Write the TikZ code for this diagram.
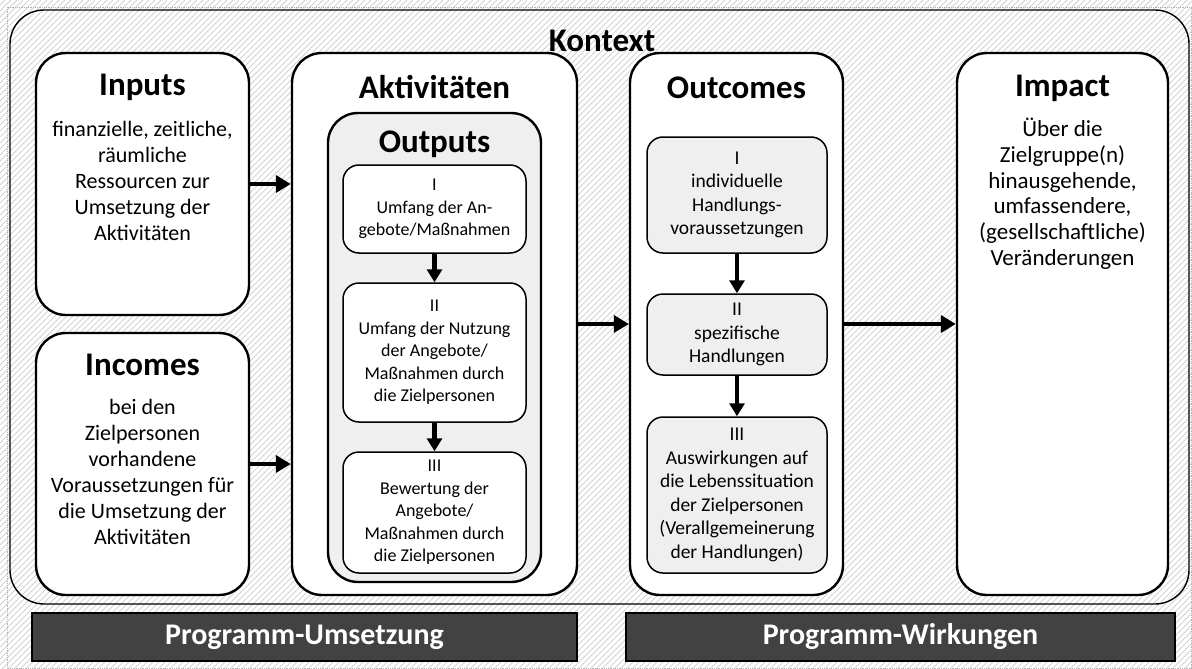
\documentclass[tikz,border=0pt]{standalone}
\usepackage{fontspec}
\setmainfont{Carlito}
\usetikzlibrary{arrows.meta}

\definecolor{boxgray}{RGB}{239,239,239}
\definecolor{bargray}{RGB}{66,66,66}
\definecolor{hatchgray}{RGB}{210,210,210}

\tikzset{
  hatch/.style={hatchgray, line width=0.9pt},
  kontextbox/.style={draw, line width=1.4pt, rounded corners=34pt, inner sep=0pt},
  mainbox/.style={draw, line width=2.4pt, rounded corners=30pt, fill=white, inner sep=0pt},
  outputframe/.style={mainbox, fill=boxgray},
  stagebox/.style={draw, line width=1.5pt, rounded corners=16pt, fill=white, inner sep=0pt,
    align=center, font=\fontsize{18}{22.5}\selectfont},
  outcomebox/.style={stagebox, fill=boxgray, font=\fontsize{19.5}{23.5}\selectfont},
  titletext/.style={inner sep=0pt, font=\fontsize{33}{38}\selectfont\bfseries},
  bodytext/.style={inner sep=0pt, align=center, font=\fontsize{22}{26}\selectfont},
  impacttext/.style={bodytext, font=\fontsize{23}{25.8}\selectfont},
  barbox/.style={draw=black, line width=1.2pt, fill=bargray, text=white, minimum height=48pt,
    font=\fontsize{30}{36}\selectfont\bfseries},
  flow/.style={line width=4.6pt, -{Triangle[length=15pt,width=17pt]}},
  stepflow/.style={line width=4.2pt, -{Triangle[length=13pt,width=15pt]}}
}

\begin{document}
\begin{tikzpicture}[x=1pt,y=-1pt]
  \useasboundingbox (0,0) rectangle (1192,669);

  % Schraffur im Hintergrund
  \begin{scope}
    \clip (0,0) rectangle (1192,669);
    \foreach \i in {-670,-664,...,1192}
      \draw[hatch] (\i,669) -- ++(669,-669);
  \end{scope}
  \draw[gray!60, densely dotted, line width=0.8pt] (7,7) rectangle (1191,668);

  % Kontext
  \node[kontextbox, minimum width=1179, minimum height=594] (kontext) at (599.5,307) {};
  \node[titletext] (kontextT) at (602,52) [anchor=base] {Kontext};

  % Inputs und Incomes
  \node[mainbox, minimum width=213, minimum height=262] (inputs) at (142.5,184) {};
  \node[titletext] (inputsT) at ([yshift=-44pt]inputs.north) [anchor=base] {Inputs};
  \node[bodytext] (inputsB) at ([yshift=-65.8pt]inputs.north) [anchor=north]
    {\strut finanzielle, zeitliche,\\räumliche\\Ressourcen zur\\Umsetzung der\\Aktivitäten};

  \node[mainbox, minimum width=213, minimum height=262] (incomes) at (142.5,464) {};
  \node[titletext] (incomesT) at ([yshift=-44pt]incomes.north) [anchor=base] {Incomes};
  \node[bodytext] (incomesB) at ([yshift=-63.8pt]incomes.north) [anchor=north]
    {\strut bei den\\Zielpersonen\\vorhandene\\Voraussetzungen für\\die Umsetzung der\\Aktivitäten};

  % Aktivitaeten mit Outputs
  \node[mainbox, minimum width=285, minimum height=542] (aktiv) at (434.5,324) {};
  \node[titletext] (aktivT) at ([yshift=-47pt]aktiv.north) [anchor=base] {Aktivitäten};

  \node[outputframe, minimum width=213, minimum height=469] (outputs) at (434.5,347.5) {};
  \node[titletext] (outputsT) at ([yshift=-41pt]outputs.north) [anchor=base] {Outputs};

  \node[stagebox, minimum width=183, minimum height=88] (out1) at (434.5,209)
    {I\\Umfang der An-\\gebote/Maßnahmen};
  \node[stagebox, minimum width=183, minimum height=139] (out2) at (434.5,352.5)
    {II\\Umfang der Nutzung\\der Angebote/\\Maßnahmen durch\\die Zielpersonen};
  \node[stagebox, minimum width=183, minimum height=121] (out3) at (434.5,512.5)
    {III\\Bewertung der\\Angebote/\\Maßnahmen durch\\die Zielpersonen};

  % Outcomes
  \node[mainbox, minimum width=213, minimum height=542] (outcomes) at (736.5,324) {};
  \node[titletext] (outcomesT) at ([yshift=-47pt]outcomes.north) [anchor=base] {Outcomes};

  \node[outcomebox, minimum width=180, minimum height=116] (oc1) at (737,195)
    {I\\individuelle\\Handlungs-\\voraussetzungen};
  \node[outcomebox, minimum width=180, minimum height=81] (oc2) at (737,334.5)
    {II\\spezifische\\Handlungen};
  \node[outcomebox, minimum width=180, minimum height=156] (oc3) at (737,495)
    {III\\Auswirkungen auf\\die Lebenssituation\\der Zielpersonen\\(Verallgemeinerung\\der Handlungen)};

  % Impact
  \node[mainbox, minimum width=211, minimum height=542] (impact) at (1062.5,324) {};
  \node[titletext] (impactT) at ([yshift=-45pt]impact.north) [anchor=base] {Impact};
  \node[impacttext] (impactB) at ([yshift=-66pt]impact.north) [anchor=north]
    {\strut Über die\\Zielgruppe(n)\\hinausgehende,\\umfassendere,\\(gesellschaftliche)\\Veränderungen};

  % Pfeile
  \draw[flow] (inputs.east) -- (aktiv.west |- inputs.east);
  \draw[flow] (incomes.east) -- (aktiv.west |- incomes.east);
  \draw[flow] (aktiv.east) -- (outcomes.west);
  \draw[flow] (outcomes.east) -- (impact.west);
  \draw[stepflow] (out1.south) -- (out2.north);
  \draw[stepflow] (out2.south) -- (out3.north);
  \draw[stepflow] (oc1.south) -- (oc2.north);
  \draw[stepflow] (oc2.south) -- (oc3.north);

  % untere Leisten
  \node[barbox, minimum width=545] (umsetzung) at (304.5,637) {Programm-Umsetzung};
  \node[barbox, minimum width=549] (wirkungen) at (900.5,637) {Programm-Wirkungen};
\end{tikzpicture}
\end{document}
